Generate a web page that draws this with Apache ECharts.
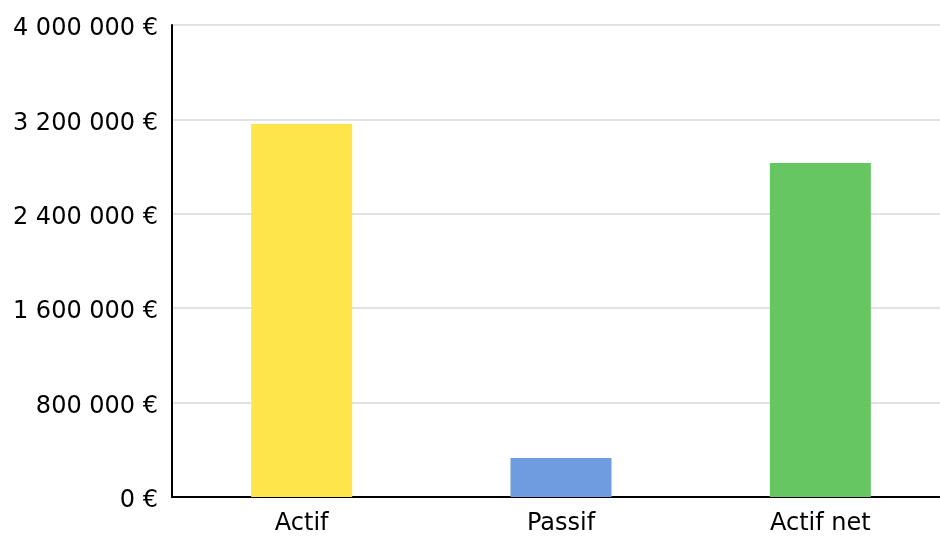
<!DOCTYPE html>
<html>
<head>
<meta charset="utf-8">
<script src="https://cdn.jsdelivr.net/npm/echarts@6/dist/echarts.min.js"></script>
<style>
  html, body { margin: 0; padding: 0; background: #fff; }
  #chart { width: 940px; height: 536px; }
</style>
</head>
<body>
<div id="chart"></div>
<script>
  // données
  var categories = ['Actif', 'Passif', 'Actif net'];
  var values = [3160000, 330000, 2830000];
  var colors = ['#ffe54c', '#6f9be0', '#66c762'];

  function euro(v) {
    return '{a|' + String(v).replace(/\B(?=(\d{3})+(?!\d))/g, ' ') + ' €}';
  }

  var chart = echarts.init(document.getElementById('chart'));
  chart.setOption({
    animation: false,
    textStyle: { fontFamily: 'DejaVu Sans' },
    grid: { left: 172, width: 778, top: 25, height: 472, outerBoundsMode: 'none', containLabel: false },
    xAxis: {
      type: 'category',
      data: categories,
      axisTick: { show: false },
      axisLine: { lineStyle: { color: '#000', width: 2 } },
      axisLabel: { color: '#000', fontSize: 24, margin: 15, fontFamily: 'DejaVu Sans' }
    },
    yAxis: {
      type: 'value',
      min: 0,
      max: 4000000,
      interval: 800000,
      axisLine: { show: true, lineStyle: { color: '#000', width: 2 } },
      axisTick: { show: false },
      splitLine: { lineStyle: { color: '#e2e2e2', width: 2 } },
      axisLabel: {
        color: '#000', fontSize: 24, margin: 14, fontFamily: 'DejaVu Sans', formatter: euro,
        rich: { a: { fontSize: 24, fontFamily: 'DejaVu Sans', color: '#000', padding: [8, 0, 0, 0] } }
      }
    },
    series: [{
      type: 'bar',
      barWidth: 101,
      data: values.map(function (v, i) {
        return { value: v, itemStyle: { color: colors[i] } };
      })
    }]
  });
</script>
</body>
</html>
